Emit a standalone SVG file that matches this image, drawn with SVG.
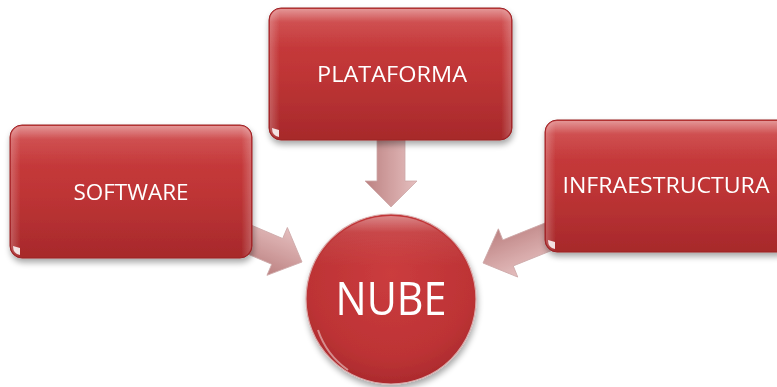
<svg xmlns="http://www.w3.org/2000/svg" width="777" height="387" viewBox="0 0 777 387">
<defs>
<linearGradient id="boxFill" x1="0" y1="0" x2="0" y2="1">
<stop offset="0" stop-color="#cd3f40"/>
<stop offset="0.5" stop-color="#bf3536"/>
<stop offset="1" stop-color="#a7292b"/>
</linearGradient>
<linearGradient id="gloss" x1="0" y1="0" x2="0" y2="1">
<stop offset="0" stop-color="#ffffff" stop-opacity="0.45"/>
<stop offset="0.1" stop-color="#ffffff" stop-opacity="0.1"/>
<stop offset="0.3" stop-color="#ffffff" stop-opacity="0"/>
</linearGradient>
<linearGradient id="sideGloss" x1="0" y1="0" x2="1" y2="0">
<stop offset="0" stop-color="#ffffff" stop-opacity="0.22"/>
<stop offset="0.04" stop-color="#ffffff" stop-opacity="0"/>
<stop offset="0.96" stop-color="#ffffff" stop-opacity="0"/>
<stop offset="1" stop-color="#ffffff" stop-opacity="0.22"/>
</linearGradient>
<radialGradient id="circFill" cx="0.5" cy="0.35" r="0.7">
<stop offset="0" stop-color="#cb3c3e"/>
<stop offset="0.7" stop-color="#bd3335"/>
<stop offset="1" stop-color="#a6282b"/>
</radialGradient>
<linearGradient id="circGloss" x1="0" y1="0" x2="0" y2="1">
<stop offset="0" stop-color="#ffffff" stop-opacity="0.4"/>
<stop offset="0.1" stop-color="#ffffff" stop-opacity="0.08"/>
<stop offset="0.3" stop-color="#ffffff" stop-opacity="0"/>
</linearGradient>
<linearGradient id="arrowFill" x1="0" y1="0" x2="0" y2="1">
<stop offset="0" stop-color="#e2b8b8"/>
<stop offset="0.5" stop-color="#cd9797"/>
<stop offset="1" stop-color="#b57474"/>
</linearGradient>
<filter id="shadow" x="-10%" y="-10%" width="125%" height="130%">
<feGaussianBlur in="SourceAlpha" stdDeviation="3"/>
<feOffset dx="1" dy="4" result="b"/>
<feComponentTransfer><feFuncA type="linear" slope="0.35"/></feComponentTransfer>
<feMerge><feMergeNode/><feMergeNode in="SourceGraphic"/></feMerge>
</filter>
</defs>
<style>
.box{fill:url(#boxFill);stroke:#9a2326;stroke-width:1}
.gloss{fill:url(#gloss)}
.side{fill:url(#sideGloss)}
.lbl{font-family:"Open Sans","Liberation Sans",Arial,sans-serif;font-size:22px;fill:#ffffff;text-anchor:middle}
.big{font-family:"Open Sans","Liberation Sans",Arial,sans-serif;font-size:45px;fill:#ffffff;text-anchor:middle}
.arrow{fill:url(#arrowFill);stroke:#c8a0a0;stroke-width:0.8;opacity:0.9}
.glint{fill:#ffffff;opacity:0.85}
</style>
<g id="connectors">
<polygon class="arrow" transform="translate(302,262) rotate(23.1)" points="-85,-14 -27,-14 -27,-26 0,0 -27,26 -27,14 -85,14"/>
<polygon class="arrow" transform="translate(391,207) rotate(90)" points="-80,-14 -26,-14 -26,-26 0,0 -26,26 -26,14 -80,14"/>
<polygon class="arrow" transform="translate(483,263) rotate(158.1)" points="-85,-14 -27,-14 -27,-26 0,0 -27,26 -27,14 -85,14"/>
</g>
<g id="software" filter="url(#shadow)">
<rect class="box" x="10" y="125" width="242" height="133" rx="12"/>
<rect class="gloss" x="11" y="126" width="240" height="131" rx="11"/>
<rect class="side" x="11" y="126" width="240" height="131" rx="11"/>
<path class="glint" d="M13,246 q0,8 7,9 l0,-7 z"/>
<text class="lbl" x="131" y="199.5" textLength="115" lengthAdjust="spacingAndGlyphs">SOFTWARE</text>
</g>
<g id="plataforma" filter="url(#shadow)">
<rect class="box" x="269" y="8" width="243" height="132" rx="12"/>
<rect class="gloss" x="270" y="9" width="241" height="130" rx="11"/>
<rect class="side" x="270" y="9" width="241" height="130" rx="11"/>
<path class="glint" d="M272,128 q0,8 7,9 l0,-7 z"/>
<text class="lbl" x="392" y="82" textLength="150" lengthAdjust="spacingAndGlyphs">PLATAFORMA</text>
</g>
<g id="infraestructura" filter="url(#shadow)">
<rect class="box" x="545" y="120" width="244" height="132" rx="12"/>
<rect class="gloss" x="546" y="121" width="242" height="130" rx="11"/>
<rect class="side" x="546" y="121" width="242" height="130" rx="11"/>
<path class="glint" d="M548,240 q0,8 7,9 l0,-7 z"/>
<text class="lbl" x="666" y="193" textLength="207" lengthAdjust="spacingAndGlyphs">INFRAESTRUCTURA</text>
</g>
<g id="nube" filter="url(#shadow)">
<circle cx="391" cy="299" r="85" fill="url(#circFill)" stroke="#d9a9a9" stroke-width="1.2"/>
<circle cx="391" cy="299" r="83" fill="url(#circGloss)"/>
<path d="M318,330 a80,80 0 0 0 30,40" fill="none" stroke="#ffffff" stroke-opacity="0.45" stroke-width="2"/>
<text class="big" x="391" y="315" textLength="111" lengthAdjust="spacingAndGlyphs">NUBE</text>
</g>
</svg>
